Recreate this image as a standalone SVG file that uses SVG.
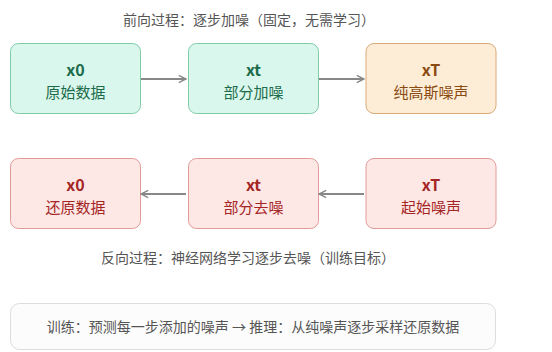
<svg xmlns="http://www.w3.org/2000/svg" width="552" height="352" viewBox="0 0 552 352">
<defs>
<marker id="ah" viewBox="0 0 10 10" refX="9" refY="5" markerWidth="9" markerHeight="9" orient="auto-start-reverse" markerUnits="userSpaceOnUse">
<path d="M1,1 L9,5 L1,9" fill="none" stroke="#888" stroke-width="1.6"/>
</marker>
<style>
text{font-family:"Noto Sans CJK SC","Noto Sans",sans-serif;text-anchor:middle}
.t{font-size:16px;font-weight:bold}
.s{font-size:15px}
.cap{font-size:14px;fill:#555}
.g rect{fill:#d9f7ec;stroke:#7fcaa9;stroke-width:1}
.g text{fill:#1b6b4b}
.o rect{fill:#fdedd6;stroke:#d8aa78;stroke-width:1}
.o text{fill:#8b4a12}
.r rect{fill:#fde8e6;stroke:#e29a97;stroke-width:1}
.r text{fill:#a52525}
.c line{stroke:#888;stroke-width:2;marker-end:url(#ah)}
</style>
</defs>
<rect width="552" height="352" fill="#fff"/>
<text class="cap" x="249" y="25">前向过程：逐步加噪（固定，无需学习）</text>
<g id="f0" class="g"><rect x="10.5" y="43.5" width="130" height="70" rx="8"/><text class="t" x="75.5" y="76">x0</text><text class="s" x="75.5" y="98">原始数据</text></g>
<g id="ft" class="g"><rect x="188.5" y="43.5" width="130" height="70" rx="8"/><text class="t" x="253.5" y="76">xt</text><text class="s" x="253.5" y="98">部分加噪</text></g>
<g id="fT" class="o"><rect x="366" y="43.5" width="130" height="70" rx="8"/><text class="t" x="431" y="76">xT</text><text class="s" x="431" y="98">纯高斯噪声</text></g>
<g id="r0" class="r"><rect x="10.5" y="158.5" width="130" height="70" rx="8"/><text class="t" x="75.5" y="191">x0</text><text class="s" x="75.5" y="213">还原数据</text></g>
<g id="rt" class="r"><rect x="188.5" y="158.5" width="130" height="70" rx="8"/><text class="t" x="253.5" y="191">xt</text><text class="s" x="253.5" y="213">部分去噪</text></g>
<g id="rT" class="r"><rect x="366" y="158.5" width="130" height="70" rx="8"/><text class="t" x="431" y="191">xT</text><text class="s" x="431" y="213">起始噪声</text></g>
<g id="connectors" class="c">
<line x1="141" y1="79" x2="186" y2="79"/>
<line x1="319" y1="79" x2="364" y2="79"/>
<line x1="364" y1="194" x2="319" y2="194"/>
<line x1="186" y1="194" x2="141" y2="194"/>
</g>
<text class="cap" x="248" y="263">反向过程：神经网络学习逐步去噪（训练目标）</text>
<g id="note"><rect x="10.5" y="303.5" width="485" height="46" rx="9" fill="#fcfcfc" stroke="#ddd"/><text class="cap" x="253" y="332">训练：预测每一步添加的噪声 → 推理：从纯噪声逐步采样还原数据</text></g>
</svg>
